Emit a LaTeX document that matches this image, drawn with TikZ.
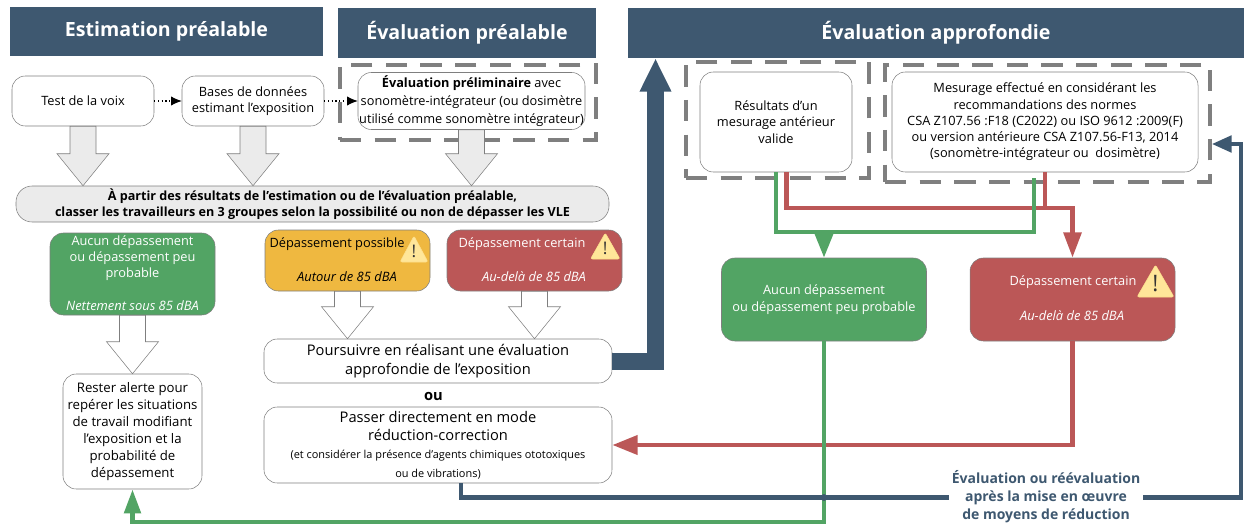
\documentclass[tikz,border=0pt]{standalone}
\usepackage{fontspec}
\setmainfont{Open Sans}
\usetikzlibrary{arrows.meta,calc}
\definecolor{navy}{RGB}{62, 88, 112}
\definecolor{leaf}{RGB}{82, 164, 100}
\definecolor{amber}{RGB}{239, 184, 64}
\definecolor{brick}{RGB}{187, 87, 87}
\definecolor{pale}{RGB}{235, 235, 235}
\definecolor{edge}{RGB}{127, 127, 127}
\definecolor{caution}{RGB}{255, 230, 153}
\newcommand{\px}{0.75pt}
\newcommand{\smalltxt}{\fontsize{9.6pt}{12.2pt}\selectfont}
\newcommand{\subtxt}{\fontsize{9.7pt}{12.2pt}\selectfont\itshape}
\newcommand{\midtxt}{\fontsize{11pt}{13.8pt}\selectfont}
\newcommand{\tinytxt}{\fontsize{8.2pt}{13pt}\selectfont}
\tikzset{
  header/.style={fill=navy, text=white, font=\fontsize{14.7pt}{17pt}\selectfont\bfseries, inner sep=0pt},
  softbox/.style={draw=edge, fill=white, rounded corners=10pt, align=center, font=\smalltxt, inner sep=0pt},
  colorbox/.style={softbox, draw=edge, text=white},
  frame/.style={draw=edge, line width=2.4pt, dash pattern=on 16pt off 10pt, inner sep=0pt},
  boxtext/.style={font=\smalltxt, text=white, inner sep=0pt},
  dotarrow/.style={dotted, line width=0.8pt, -{Latex[length=8pt,width=7pt]}},
  greyarrow/.style={draw=edge, fill=pale},
  whitearrow/.style={draw=edge, fill=white},
  greenline/.style={draw=leaf, line width=3.6pt},
  redline/.style={draw=brick, line width=3.6pt},
  navyline/.style={draw=navy, line width=3.6pt},
}
\newcommand{\blockarrow}[3]{
  \draw[#1] ($(#2)+(-13,0)$) -- ($(#3)+(-13,-32)$) -- ($(#3)+(-26,-32)$) -- (#3)
    -- ($(#3)+(26,-32)$) -- ($(#3)+(13,-32)$) -- ($(#2)+(13,0)$) -- cycle;
}
\newcommand{\warnsign}[6]{
  \draw[fill=caution, draw=caution!85!amber, rounded corners=1.5pt] (#2,#3) -- (#2+#4,#3) -- (#2+#4/2,#3-#5) -- cycle;
  \node[inner sep=0pt, text=black!80, font=\fontsize{#6}{#6}\selectfont] (#1) at (#2+#4/2,#3-#5*0.42) {!};
}
\begin{document}
\begin{tikzpicture}[x=\px, y=-\px]
  \useasboundingbox (0,0) rectangle (1244,524);

  % Headers
  \node[header, minimum width=313*\px, minimum height=49*\px] (headA) at (166.5,31.5) {Estimation préalable};
  \node[header, minimum width=258*\px, minimum height=50*\px] (headB) at (467,33) {Évaluation préalable};
  \node[header, minimum width=616*\px, minimum height=50*\px] (headC) at (936,33) {Évaluation approfondie};

  % Dashed frames
  \node[frame, minimum width=256*\px, minimum height=75*\px] (frameA) at (468,102.5) {};
  \node[frame, minimum width=183*\px, minimum height=116*\px] (frameB) at (777.5,120) {};
  \node[frame, minimum width=325*\px, minimum height=117*\px] (frameC) at (1047.5,123.5) {};

  % Top row
  \node[softbox, minimum width=142*\px, minimum height=50*\px] (voix) at (83,101) {Test de la voix};
  \node[softbox, minimum width=142*\px, minimum height=50*\px] (bases) at (253,101) {Bases de données\\estimant l’exposition};
  \node[softbox, minimum width=227*\px, minimum height=57*\px, font=\fontsize{9.55pt}{13.3pt}\selectfont] (prelim) at (471.5,101) {\textbf{Évaluation préliminaire} avec\\sonomètre-intégrateur (ou dosimètre\\utilisé comme sonomètre intégrateur)};
  \node[softbox, fill=pale, font=\fontsize{9.45pt}{11.5pt}\selectfont\bfseries, minimum width=593*\px, minimum height=36*\px, rounded corners=12pt] (classer) at (312.5,204) {À partir des résultats de l’estimation ou de l’évaluation préalable,\\classer les travailleurs en 3 groupes selon la possibilité ou non de dépasser les VLE};

  % Groups
  \node[colorbox, fill=leaf, minimum width=165*\px, minimum height=82*\px] (aucunA) at (132.5,274) {};
  \node[boxtext, align=center] (aucunAtxt) at (132.5,258) {Aucun dépassement\\ou dépassement peu\\probable};
  \node[boxtext, font=\subtxt] (aucunAsub) at (132.5,306) {Nettement sous 85 dBA};
  \node[colorbox, fill=amber, minimum width=165*\px, minimum height=61*\px] (possible) at (347.5,260.5) {};
  \node[boxtext, text=black] (possibletxt) at (337,244) {Dépassement possible};
  \node[boxtext, text=black, font=\subtxt] (possiblesub) at (347,277) {Autour de 85 dBA};
  \node[colorbox, fill=brick, minimum width=175*\px, minimum height=61*\px] (certainA) at (534.5,260.5) {};
  \node[boxtext] (certainAtxt) at (522,244) {Dépassement certain};
  \node[boxtext, font=\subtxt] (certainAsub) at (534,277) {Au-delà de 85 dBA};

  % Lower left boxes
  \node[softbox, minimum width=139*\px, minimum height=115*\px, font=\fontsize{9.9pt}{12.7pt}\selectfont] (rester) at (132.5,431.5) {Rester alerte pour\\repérer les situations\\de travail modifiant\\l’exposition et la\\probabilité de\\dépassement};
  \node[softbox, minimum width=348*\px, minimum height=44*\px, font=\midtxt] (poursuivre) at (438,361) {Poursuivre en réalisant une évaluation\\approfondie de l’exposition};
  \node[inner sep=0pt, font=\midtxt\bfseries] (ou) at (433.5,396) {ou};
  \node[softbox, minimum width=348*\px, minimum height=76*\px, font=\midtxt] (passer) at (438,445) {Passer directement en mode\\réduction-correction\\\tinytxt (et considérer la présence d’agents chimiques ototoxiques\\\tinytxt ou de vibrations)};

  % Right side boxes
  \node[softbox, minimum width=152*\px, minimum height=100*\px] (resultats) at (776,122) {Résultats d’un\\mesurage antérieur\\valide};
  \node[softbox, minimum width=306*\px, minimum height=100*\px] (mesurage) at (1045,122) {Mesurage effectué en considérant les\\recommandations des normes\\CSA Z107.56 :F18 (C2022) ou ISO 9612 :2009(F)\\ou version antérieure CSA Z107.56-F13, 2014\\(sonomètre-intégrateur ou\ \ dosimètre)};
  \node[colorbox, fill=leaf, minimum width=205*\px, minimum height=83*\px] (aucunB) at (824,299.5) {Aucun dépassement\\ou dépassement peu probable};
  \node[colorbox, fill=brick, minimum width=205*\px, minimum height=83*\px] (certainB) at (1072.5,299.5) {};
  \node[boxtext] (certainBtxt) at (1073,282) {Dépassement certain};
  \node[boxtext, font=\subtxt] (certainBsub) at (1072,316) {Au-delà de 85 dBA};

  % Warning signs
  \warnsign{warnA}{400}{262}{28}{26}{13pt}
  \warnsign{warnB}{590.5}{259}{29.5}{26}{13pt}
  \warnsign{warnC}{1137}{297}{37}{32}{17pt}

  % Small arrows
  \draw[dotarrow] (voix.east) -- (bases.west);
  \draw[dotarrow] (bases.east) -- (prelim.west);

  % Block arrows
  \blockarrow{greyarrow}{voix.south}{voix.south |- classer.north}
  \blockarrow{greyarrow}{bases.south}{bases.south |- classer.north}
  \blockarrow{greyarrow}{prelim.south}{prelim.south |- classer.north}
  \blockarrow{whitearrow}{aucunA.south}{rester.north}
  \blockarrow{whitearrow}{possible.south}{possible.south |- poursuivre.north}
  \blockarrow{whitearrow}{certainA.south}{certainA.south |- poursuivre.north}

  % Thick connector to the third header
  \coordinate (cornerA) at (655.5,361);
  \draw[draw=navy, line width=17*\px, -{Triangle[length=25pt,width=22pt]}] (poursuivre.east) -- (cornerA) -- (cornerA |- headC.south);

  % Red connectors
  \coordinate (redstartA) at ($(resultats.south)+(10.5,0)$);
  \coordinate (redjoin) at (mesurage.south |- 0,208);
  \draw[redline, -{Triangle[length=19pt,width=13pt]}] (redstartA) |- (certainB.north |- redjoin) -- (certainB.north);
  \draw[redline] (mesurage.south) -- (redjoin);
  \draw[redline, -{Triangle[length=19pt,width=14pt]}] (certainB.south) |- (passer.east);

  % Green connectors
  \coordinate (greenstartB) at ($(mesurage.south)+(-11,6)$);
  \coordinate (greenjoin) at (aucunB.north |- 0,232);
  \draw[greenline] (resultats.south) |- (greenjoin) -| (greenstartB);
  \draw[greenline, -{Triangle[length=19pt,width=14pt]}] (greenjoin) -- (aucunB.north);
  \coordinate (greenturn) at (aucunB.south |- 0,522);
  \draw[greenline, -{Triangle[length=18pt,width=12pt]}] (aucunB.south) -- (greenturn) -| (rester.south);

  % Navy feedback line
  \coordinate (navystart) at ($(passer.south)+(23,0)$);
  \coordinate (navybelow) at (navystart |- 0,497.5);
  \coordinate (navyright) at (1241,497.5);
  \coordinate (navyup) at (1241,144);
  \draw[navyline, -{Triangle[length=15pt,width=12pt]}] (navystart) -- (navybelow) -- (navyright) -- (navyup) -- (frameC.east |- navyup);
  \fill[navy] (aucunB.south |- navyright) circle[radius=3.4];
  \node[fill=white, inner sep=2pt, align=center, text=navy, font=\fontsize{10.5pt}{13.6pt}\selectfont\bfseries] (reeval) at (1046,497) {Évaluation ou réévaluation\\après la mise en œuvre\\de moyens de réduction};
\end{tikzpicture}
\end{document}
